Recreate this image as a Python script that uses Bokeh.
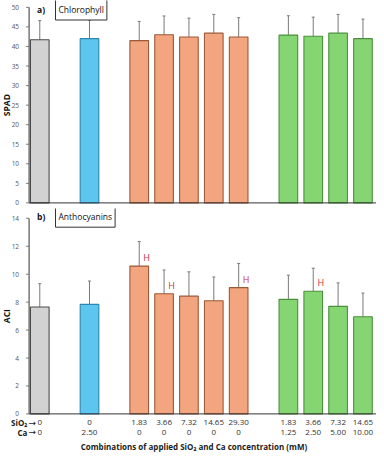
import math
from bokeh.plotting import figure
from bokeh.layouts import column
from bokeh.models import ColumnDataSource, Whisker, TeeHead, Label, Range1d
from bokeh.core.properties import value
from bokeh.embed import file_html
from bokeh.resources import INLINE

# ---- data ----
slots = [0, 2, 4, 5, 6, 7, 8, 10, 11, 12, 13]
sio2_labels = ["0", "0", "1.83", "3.66", "7.32", "14.65", "29.30", "1.83", "3.66", "7.32", "14.65"]
ca_labels = ["0", "2.50", "0", "0", "0", "0", "0", "1.25", "2.50", "5.00", "10.00"]
groups = ["control", "ca", "si", "si", "si", "si", "si", "sica", "sica", "sica", "sica"]
chl = [41.7, 42.0, 41.5, 43.0, 42.4, 43.4, 42.4, 42.9, 42.6, 43.4, 42.0]
chl_err = [4.9, 4.7, 4.9, 4.8, 4.85, 4.8, 4.95, 4.95, 4.9, 4.8, 5.0]
aci = [7.65, 7.84, 10.58, 8.6, 8.43, 8.1, 9.04, 8.2, 8.78, 7.7, 6.95]
aci_err = [1.67, 1.67, 1.76, 1.7, 1.74, 1.7, 1.73, 1.73, 1.65, 1.68, 1.7]
aci_flag = ["", "", "H", "H", "", "", "H", "", "H", "", ""]
chl_ticks = [0, 5, 10, 15, 20, 25, 30, 35, 40, 45, 50]
aci_ticks = [0, 2, 4, 6, 8, 10, 12, 14]
row_names = ["SiO₂", "Ca"]

fills = {"control": "#d2d2d2", "ca": "#5cc6ee", "si": "#f2a57e", "sica": "#85d672"}
edges = {"control": "#4a4a4a", "ca": "#2f86b0", "si": "#9b5a3a", "sica": "#4b8f3d"}

FONT = "Open Sans"
W = 376
PX_SLOT = 24.86            # pixels per category slot
X0 = -1.58
X1 = X0 + W / PX_SLOT
XA = -0.43                 # y-axis position (slot units)


def make_fig(height, ymin, ymax):
    p = figure(width=W, height=height, output_backend="svg", toolbar_location=None,
               x_range=Range1d(X0, X1), y_range=Range1d(ymin, ymax),
               min_border_left=0, min_border_right=0,
               min_border_top=0, min_border_bottom=0)
    p.outline_line_color = None
    p.axis.visible = False
    p.xgrid.grid_line_color = None
    p.ygrid.grid_line_color = None
    return p


def draw_axes(p, ticks, label):
    top = ticks[-1]
    p.segment(x0=[XA], y0=[0], x1=[XA], y1=[top], line_color="#333333", line_width=1)
    p.segment(x0=[XA], y0=[0], x1=[X1], y1=[0], line_color="#333333", line_width=1)
    tsrc = ColumnDataSource(dict(y=ticks, t=[str(t) for t in ticks],
                                 xa=[XA] * len(ticks), xb=[XA - 3 / PX_SLOT] * len(ticks),
                                 xl=[XA - 10 / PX_SLOT] * len(ticks)))
    p.segment(x0="xa", y0="y", x1="xb", y1="y", source=tsrc, line_color="#777777", line_width=1)
    p.text(x="xl", y="y", text="t", source=tsrc, text_font=value(FONT),
           text_font_size="6.5px", text_color="#555555", text_align="right",
           text_baseline="middle")
    p.text(x=[X0 + 5.5 / PX_SLOT], y=[top / 2], text=[label], angle=math.pi / 2,
           text_font=value(FONT), text_font_size="8.5px", text_font_style="bold",
           text_color="#111111", text_align="center", text_baseline="middle")


def add_bars(p, vals, errs):
    src = ColumnDataSource(dict(
        x=slots, top=vals,
        up=[v + e for v, e in zip(vals, errs)],
        lo=[v - e for v, e in zip(vals, errs)],
        fill=[fills[g] for g in groups],
        edge=[edges[g] for g in groups],
    ))
    p.vbar(x="x", top="top", width=0.75, bottom=0, source=src,
           fill_color="fill", line_color="edge", line_width=1.1)
    w = Whisker(base="x", upper="up", lower="lo", source=src,
                line_color="#7a7a7a", line_width=1,
                upper_head=TeeHead(size=3, line_color="#7a7a7a", line_width=1),
                lower_head=TeeHead(size=3, line_color="#7a7a7a", line_width=1))
    p.add_layout(w)


def panel_label(p, letter, name, y_screen):
    p.add_layout(Label(x=36.5, y=y_screen, x_units="screen", y_units="screen", text=letter,
                       text_font=FONT, text_font_size="8.5px", text_font_style="bold",
                       text_baseline="middle", text_align="left", text_color="#111111"))
    p.add_layout(Label(x=55, y=y_screen, x_units="screen", y_units="screen", text=name,
                       text_font=FONT, text_font_size="8.5px",
                       text_baseline="middle", text_align="left", text_color="#111111",
                       background_fill_color="white", border_line_color="#333333",
                       border_line_width=1, padding=(3, 5)))


# ---- top panel: chlorophyll ----
H1 = 208
S1 = 3.911                         # px per SPAD unit
Y1MIN = -5.6 / S1
p1 = make_fig(H1, Y1MIN, Y1MIN + H1 / S1)
add_bars(p1, chl, chl_err)
draw_axes(p1, chl_ticks, "SPAD")
panel_label(p1, "a)", "Chlorophyll", H1 - 9.0)

# ---- bottom panel: anthocyanins ----
H2 = 244
S2 = 13.97                         # px per ACI unit
Y2MIN = -38.6 / S2
p2 = make_fig(H2, Y2MIN, Y2MIN + H2 / S2)
add_bars(p2, aci, aci_err)
draw_axes(p2, aci_ticks, "ACI")
panel_label(p2, "b)", "Anthocyanins", H2 - 8.2)

hsrc = ColumnDataSource(dict(
    x=[s + 0.3 for s, f in zip(slots, aci_flag) if f],
    y=[v + 0.6 for v, f in zip(aci, aci_flag) if f],
    t=[f for f in aci_flag if f],
))
p2.text(x="x", y="y", text="t", source=hsrc, text_color="#c8323c",
        text_font=value(FONT), text_font_size="9px", text_align="center",
        text_baseline="middle")

row_si = -9 / S2
row_ca = -18.5 / S2
row_title = -33 / S2
tick_src = ColumnDataSource(dict(x=slots, si=sio2_labels, ca=ca_labels,
                                 ysi=[row_si] * len(slots), yca=[row_ca] * len(slots)))
p2.text(x="x", y="ysi", text="si", source=tick_src, text_font=value(FONT),
        text_font_size="8px", text_align="center", text_baseline="middle",
        text_color="#333333")
p2.text(x="x", y="yca", text="ca", source=tick_src, text_font=value(FONT),
        text_font_size="8px", text_align="center", text_baseline="middle",
        text_color="#333333")
p2.text(x=[-0.5, -0.5], y=[row_si, row_ca], text=row_names,
        text_font=value(FONT), text_font_size="8px", text_font_style="bold",
        text_align="right", text_baseline="middle", text_color="#222222")
p2.text(x=[-0.3, -0.3], y=[row_si, row_ca], text=["→", "→"],
        text_font=value("DejaVu Sans"), text_font_size="9px",
        text_align="center", text_baseline="middle", text_color="#222222")
p2.text(x=[6.2], y=[row_title],
        text=["Combinations of applied SiO₂ and Ca concentration (mM)"],
        text_font=value(FONT), text_font_size="8px", text_font_style="bold",
        text_align="center", text_baseline="middle", text_color="#222222")

layout = column(p1, p2)
open("out.html", "w").write(file_html(layout, INLINE))
